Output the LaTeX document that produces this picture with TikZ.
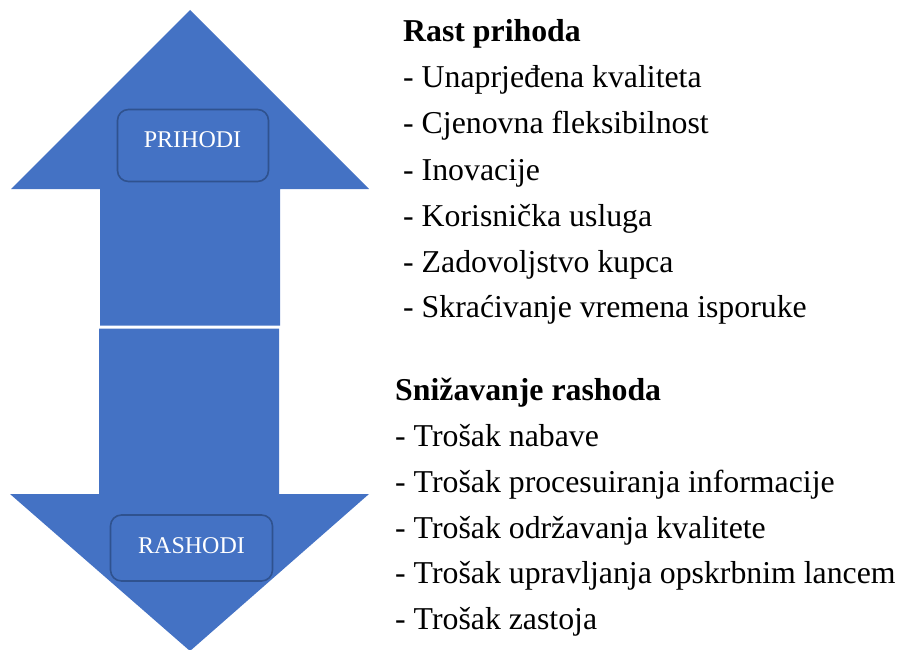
\documentclass[tikz,border=0pt]{standalone}
\usepackage{fontspec}
\setmainfont{Liberation Serif}
\definecolor{arrowblue}{HTML}{4472C4}
\definecolor{boxedge}{HTML}{2F528F}
\begin{document}
\begin{tikzpicture}[x=1pt,y=-1pt,
  arrowshape/.style={fill=arrowblue,draw=none},
  labelbox/.style={draw=boxedge,line width=1.6pt,rounded corners=11pt,fill=arrowblue,inner sep=0pt},
  labeltext/.style={text=white,font=\fontsize{24}{28}\selectfont,anchor=base,inner sep=0pt},
  head/.style={anchor=base west,inner sep=0pt,font=\fontsize{31.8}{38}\selectfont\bfseries},
  item/.style={anchor=base west,inner sep=0pt,font=\fontsize{31.8}{38}\selectfont}]
\useasboundingbox (0,0) rectangle (899,650);
% up arrow
\fill[arrowshape] (190,10) -- (369,189) -- (280,189) -- (280,325.5) -- (100,325.5) -- (100,189) -- (11,189) -- cycle;
% down arrow
\fill[arrowshape] (99,328.5) -- (279,328.5) -- (279,494) -- (369,494) -- (190,651) -- (10,494) -- (99,494) -- cycle;
% label boxes
\node[labelbox,minimum width=151pt,minimum height=72pt] (pbox) at (193,145.5) {};
\node[labeltext] (ptext) at (192.5,147) {PRIHODI};
\node[labelbox,minimum width=162pt,minimum height=66pt] (rbox) at (191.5,548) {};
\node[labeltext] (rtext) at (191.5,553) {RASHODI};
% right text, block 1
\node[head] (h1) at (403,42) {Rast prihoda};
\node[item] (a1) at (403,88) {- Unaprjeđena kvaliteta};
\node[item] (a2) at (403,134) {- Cjenovna fleksibilnost};
\node[item] (a3) at (403,180) {- Inovacije};
\node[item] (a4) at (403,226) {- Korisnička usluga};
\node[item] (a5) at (403,272) {- Zadovoljstvo kupca};
\node[item] (a6) at (403,317) {- Skraćivanje vremena isporuke};
% block 2
\node[head] (h2) at (395,400) {Snižavanje rashoda};
\node[item] (b1) at (395,446) {- Trošak nabave};
\node[item] (b2) at (395,492) {- Trošak procesuiranja informacije};
\node[item] (b3) at (395,538) {- Trošak održavanja kvalitete};
\node[item] (b4) at (395,583) {- Trošak upravljanja opskrbnim lancem};
\node[item] (b5) at (395,629) {- Trošak zastoja};
\end{tikzpicture}
\end{document}
